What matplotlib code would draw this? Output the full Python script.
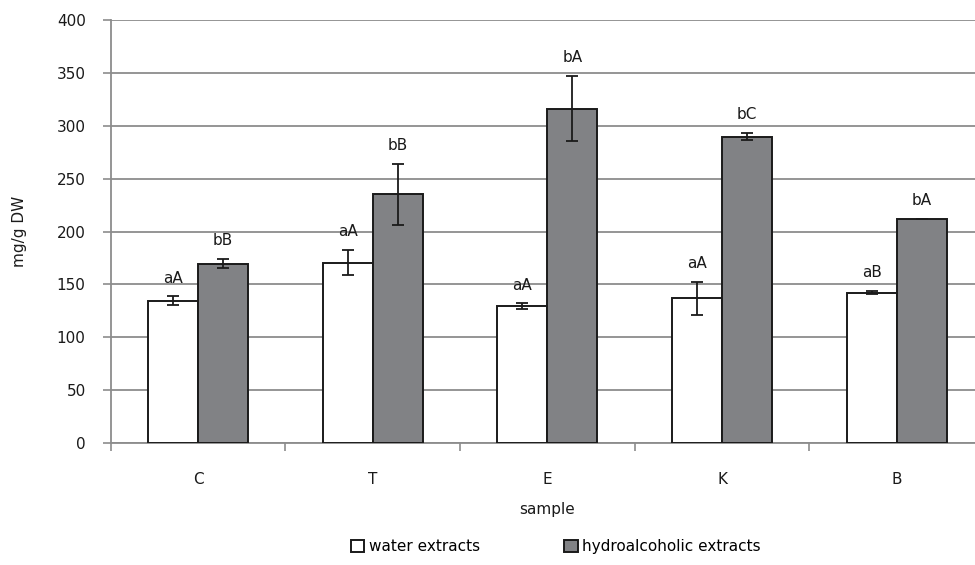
import numpy as np
import matplotlib.pyplot as plt
from matplotlib.ticker import MultipleLocator, FixedLocator

plt.rcParams['font.family'] = ['DejaVu Sans']

# data
samples = ['C', 'T', 'E', 'K', 'B']
water = [134.6, 170.5, 129.5, 136.8, 142.2]
water_err = [4.0, 12.0, 2.5, 15.6, 1.5]
hydro = [169.6, 235.0, 316.2, 289.7, 211.8]
hydro_err = [4.4, 29.0, 31.0, 3.5, 0.0]
water_lbl = ['aA', 'aA', 'aA', 'aA', 'aB']
hydro_lbl = ['bB', 'bB', 'bA', 'bC', 'bA']

gray = '#818285'
gridc = '#8c8c8c'
txtc = '#1a1a1a'
fs = 11
w = 0.286

fig = plt.figure(figsize=(9.75, 5.65), dpi=100)
ax = fig.add_axes([0.1135, 0.2159, 0.8959, 0.7487])

x = np.arange(len(samples))
ekw = dict(elinewidth=1.3, capthick=1.3, ecolor=txtc)
b1 = ax.bar(x - w/2, water, w, color='white', edgecolor=txtc, linewidth=1.4,
            yerr=water_err, capsize=4.5, error_kw=ekw, label='water extracts', zorder=3)
b2 = ax.bar(x + w/2, hydro, w, color=gray, edgecolor=txtc, linewidth=1.4,
            yerr=hydro_err, capsize=4.5, error_kw=ekw, label='hydroalcoholic extracts', zorder=3)

for i in range(len(samples)):
    ax.annotate(water_lbl[i], (x[i] - w/2, water[i] + water_err[i]), xytext=(0, 13),
                textcoords='offset points', ha='center', va='center', fontsize=fs, color=txtc)
    ax.annotate(hydro_lbl[i], (x[i] + w/2, hydro[i] + hydro_err[i]), xytext=(0, 13),
                textcoords='offset points', ha='center', va='center', fontsize=fs, color=txtc)

ax.set_xlim(-0.5, len(samples) - 0.5)
ax.set_ylim(0, 400)
ax.yaxis.set_major_locator(MultipleLocator(50))
ax.yaxis.grid(True, color=gridc, linewidth=1.3, zorder=0)
ax.set_axisbelow(True)

ax.set_xticks(x)
ax.set_xticklabels(samples)
ax.xaxis.set_minor_locator(FixedLocator(np.arange(-0.5, len(samples), 1.0)))
ax.tick_params(axis='x', which='major', length=0, pad=21, labelsize=fs, labelcolor=txtc)
ax.tick_params(axis='x', which='minor', length=6, width=1.2, color=gridc)
ax.tick_params(axis='y', length=6, width=1.2, color=gridc, labelsize=fs, labelcolor=txtc, pad=12)

for s in ['top', 'right']:
    ax.spines[s].set_visible(False)
for s in ['left', 'bottom']:
    ax.spines[s].set_color(gridc)
    ax.spines[s].set_linewidth(1.3)

ax.set_xlabel('sample', fontsize=fs, color=txtc, va='center')
ax.set_ylabel('mg/g DW', fontsize=fs, color=txtc, va='center')
ax.xaxis.set_label_coords(0.5, -0.158)
ax.yaxis.set_label_coords(-0.104, 0.5)

fig.legend(handles=[b1, b2], loc='center', bbox_to_anchor=(0.570, 0.032), ncol=2, frameon=False,
           fontsize=fs, handlelength=0.9, handleheight=0.9, handletextpad=0.3, columnspacing=5.5)

fig.savefig('out.png', dpi=100)
